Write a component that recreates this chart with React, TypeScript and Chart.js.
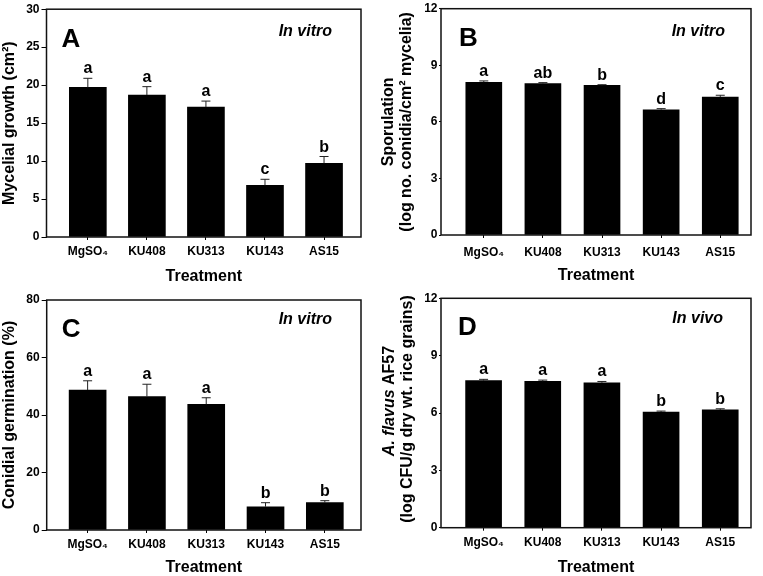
import React, { useEffect, useRef } from 'react';
import { Chart, registerables } from 'chart.js';

Chart.register(...registerables);

const FONT = '"Liberation Sans", Arial, Helvetica, sans-serif';
const W = 763;
const H = 576;

const TREATMENTS = ['MgSO₄', 'KU408', 'KU313', 'KU143', 'AS15'];

// Panel A: mycelial growth (cm²)
const A_VALUES = [19.7, 18.7, 17.1, 6.8, 9.7];
const A_ERRORS = [1.2, 1.1, 0.8, 0.8, 0.9];
const A_LETTERS = ['a', 'a', 'a', 'c', 'b'];
const A_TICKS = [0, 5, 10, 15, 20, 25, 30];

// Panel B: sporulation (log no. conidia/cm² mycelia)
const B_VALUES = [8.1, 8.03, 7.93, 6.64, 7.32];
const B_ERRORS = [0.07, 0.05, 0.04, 0.06, 0.09];
const B_LETTERS = ['a', 'ab', 'b', 'd', 'c'];
const B_TICKS = [0, 3, 6, 9, 12];

// Panel C: conidial germination (%)
const C_VALUES = [48.7, 46.4, 43.7, 8.1, 9.5];
const C_ERRORS = [3.2, 4.3, 2.3, 1.4, 0.7];
const C_LETTERS = ['a', 'a', 'a', 'b', 'b'];
const C_TICKS = [0, 20, 40, 60, 80];

// Panel D: A. flavus AF57 (log CFU/g dry wt. rice grains)
const D_VALUES = [7.69, 7.66, 7.58, 6.05, 6.16];
const D_ERRORS = [0.07, 0.06, 0.07, 0.05, 0.06];
const D_LETTERS = ['a', 'a', 'a', 'b', 'b'];
const D_TICKS = [0, 3, 6, 9, 12];

type Panel = {
  values: number[];
  errors: number[];
  letters: string[];
  yTicks: number[];
  yTitle: string | string[] | null;
  yTitleX: number;
  yTitleLH: number;
  yTickLen: number;
  yTickPad: number;
  panelLetter: string;
  letterDX: number;
  letterDY: number;
  condition: string;
  condDX: number;
  condDY: number;
  plot: { left: number; right: number; top: number; bottom: number };
  xRange: [number, number];
  xLabelY: number;
  xTitleY: number;
  barThickness: number;
  customTitle?: boolean;
};

const PANELS: Panel[] = [
  {
    values: A_VALUES, errors: A_ERRORS, letters: A_LETTERS, yTicks: A_TICKS,
    yTitle: 'Mycelial growth (cm²)', yTitleX: 10, yTitleLH: 19.2, yTickLen: 5, yTickPad: 2,
    panelLetter: 'A', letterDX: 15, letterDY: 38,
    condition: 'In vitro', condDX: 29, condDY: 26.5,
    plot: { left: 46.5, right: 361, top: 5, bottom: 237 },
    xRange: [-0.70, 4.626], xLabelY: 252, xTitleY: 276.7, barThickness: 37,
  },
  {
    values: B_VALUES, errors: B_ERRORS, letters: B_LETTERS, yTicks: B_TICKS,
    yTitle: ['Sporulation', '(log no. conidia/cm² mycelia)'], yTitleX: 389, yTitleLH: 18,
    yTickLen: 2, yTickPad: 1.5,
    panelLetter: 'B', letterDX: 18, letterDY: 37,
    condition: 'In vitro', condDX: 26, condDY: 27,
    plot: { left: 441, right: 751, top: 5, bottom: 235 },
    xRange: [-0.724, 4.52], xLabelY: 253, xTitleY: 276, barThickness: 36,
  },
  {
    values: C_VALUES, errors: C_ERRORS, letters: C_LETTERS, yTicks: C_TICKS,
    yTitle: 'Conidial germination (%)', yTitleX: 9.6, yTitleLH: 19.2, yTickLen: 5, yTickPad: 2,
    panelLetter: 'C', letterDX: 15, letterDY: 36.7,
    condition: 'In vitro', condDX: 29, condDY: 23.5,
    plot: { left: 46.7, right: 361, top: 300, bottom: 530 },
    xRange: [-0.69, 4.61], xLabelY: 545, xTitleY: 568, barThickness: 37,
  },
  {
    values: D_VALUES, errors: D_ERRORS, letters: D_LETTERS, yTicks: D_TICKS,
    yTitle: null, yTitleX: 390, yTitleLH: 18, customTitle: true,
    yTickLen: 2, yTickPad: 1.5,
    panelLetter: 'D', letterDX: 17, letterDY: 37,
    condition: 'In vivo', condDX: 28, condDY: 25,
    plot: { left: 441, right: 751, top: 298.3, bottom: 527.7 },
    xRange: [-0.72, 4.52], xLabelY: 543, xTitleY: 568, barThickness: 36,
  },
];

function makeChart(canvas: HTMLCanvasElement, p: Panel) {
  const titleLeft = Math.max(0, p.yTitleX - p.yTitleLH / 2);
  const yW = p.plot.left - titleLeft;
  const xTitleLH = 19.2;
  const scaleBottom = p.xTitleY + xTitleLH / 2;
  const xH = scaleBottom - p.plot.bottom;
  const xTickLen = 3;
  const xTickPad = p.xLabelY - p.plot.bottom - xTickLen - 7.2;

  const overlay = {
    id: 'overlay' + p.panelLetter,
    afterDatasetsDraw(chart: any) {
      const ctx = chart.ctx as CanvasRenderingContext2D;
      const { left, right, top, bottom } = chart.chartArea;
      const xs = chart.scales.x;
      const ys = chart.scales.y;
      ctx.save();
      // error bars + significance letters
      p.values.forEach((v, i) => {
        const x = xs.getPixelForValue(i);
        const y0 = ys.getPixelForValue(v);
        const y1 = ys.getPixelForValue(v + p.errors[i]);
        ctx.strokeStyle = '#222';
        ctx.lineWidth = 1;
        ctx.beginPath();
        ctx.moveTo(x, y0);
        ctx.lineTo(x, y1);
        ctx.moveTo(x - 4.5, y1);
        ctx.lineTo(x + 4.5, y1);
        ctx.stroke();
        ctx.fillStyle = '#000';
        ctx.font = `bold 16px ${FONT}`;
        ctx.textAlign = 'center';
        ctx.textBaseline = 'alphabetic';
        ctx.fillText(p.letters[i], x, y1 - 5);
      });
      // frame
      ctx.strokeStyle = '#111';
      ctx.lineWidth = 1.5;
      ctx.strokeRect(left, top, right - left, bottom - top);
      // panel letter
      ctx.fillStyle = '#000';
      ctx.font = `bold 26px ${FONT}`;
      ctx.textAlign = 'left';
      ctx.textBaseline = 'alphabetic';
      ctx.fillText(p.panelLetter, left + p.letterDX, top + p.letterDY);
      // condition
      ctx.font = `italic bold 16px ${FONT}`;
      ctx.textAlign = 'right';
      ctx.fillText(p.condition, right - p.condDX, top + p.condDY);
      // custom y title for D (mixed italic)
      if (p.customTitle) {
        const italicFont = `italic bold 16px ${FONT}`;
        const boldFont = `bold 16px ${FONT}`;
        const part1 = 'A. flavus';
        const part2 = ' AF57';
        ctx.save();
        ctx.translate(p.yTitleX, 401);
        ctx.rotate(-Math.PI / 2);
        ctx.textBaseline = 'middle';
        ctx.textAlign = 'left';
        ctx.font = italicFont;
        const w1 = ctx.measureText(part1).width;
        ctx.font = boldFont;
        const w2 = ctx.measureText(part2).width;
        const start = -(w1 + w2) / 2;
        ctx.font = italicFont;
        ctx.fillText(part1, start, 0);
        ctx.font = boldFont;
        ctx.fillText(part2, start + w1, 0);
        ctx.restore();
        ctx.save();
        ctx.translate(p.yTitleX + p.yTitleLH, 409);
        ctx.rotate(-Math.PI / 2);
        ctx.textBaseline = 'middle';
        ctx.textAlign = 'center';
        ctx.font = boldFont;
        ctx.fillText('(log CFU/g dry wt. rice grains)', 0, 0);
        ctx.restore();
      }
      ctx.restore();
    },
  };

  return new Chart(canvas, {
    type: 'bar',
    data: {
      datasets: [
        {
          data: p.values.map((v, i) => ({ x: i, y: v })),
          backgroundColor: '#000',
          borderWidth: 0,
          barThickness: p.barThickness,
        },
      ],
    },
    options: {
      responsive: false,
      animation: false,
      devicePixelRatio: 1,
      layout: {
        autoPadding: false,
        padding: {
          left: titleLeft,
          right: W - p.plot.right,
          top: p.plot.top,
          bottom: H - scaleBottom,
        },
      },
      plugins: {
        legend: { display: false },
        tooltip: { enabled: false },
      },
      scales: {
        x: {
          type: 'linear',
          min: p.xRange[0],
          max: p.xRange[1],
          offset: false,
          afterBuildTicks: (s: any) => {
            s.ticks = TREATMENTS.map((_, i) => ({ value: i }));
          },
          afterFit: (s: any) => {
            s.height = xH;
          },
          grid: {
            display: true,
            drawOnChartArea: false,
            drawTicks: true,
            tickLength: xTickLen,
            color: '#000',
            offset: false,
          },
          border: { display: false },
          ticks: {
            callback: (v: any) => TREATMENTS[Math.round(Number(v))] ?? '',
            font: { family: FONT, size: 12, weight: 'bold' },
            color: '#000',
            padding: xTickPad,
            maxRotation: 0,
            autoSkip: false,
          },
          title: {
            display: true,
            text: 'Treatment',
            font: { family: FONT, size: 16, weight: 'bold', lineHeight: 1.2 },
            color: '#000',
            padding: 0,
          },
        },
        y: {
          type: 'linear',
          min: 0,
          max: p.yTicks[p.yTicks.length - 1],
          afterBuildTicks: (s: any) => {
            s.ticks = p.yTicks.map((v) => ({ value: v }));
          },
          afterFit: (s: any) => {
            s.width = yW;
          },
          grid: {
            display: true,
            drawOnChartArea: false,
            drawTicks: true,
            tickLength: p.yTickLen,
            color: '#000',
          },
          border: { display: false },
          ticks: {
            font: { family: FONT, size: 12, weight: 'bold' },
            color: '#000',
            padding: p.yTickPad,
          },
          title: {
            display: !!p.yTitle,
            text: p.yTitle ?? '',
            font: { family: FONT, size: 16, weight: 'bold', lineHeight: p.yTitleLH / 16 },
            color: '#000',
            padding: 0,
          },
        },
      },
    },
    plugins: [overlay],
  } as any);
}

function PanelCanvas({ panel }: { panel: Panel }) {
  const ref = useRef<HTMLCanvasElement | null>(null);
  useEffect(() => {
    if (!ref.current) return;
    const chart = makeChart(ref.current, panel);
    return () => chart.destroy();
  }, [panel]);
  return (
    <canvas
      ref={ref}
      width={W}
      height={H}
      style={{ position: 'absolute', left: 0, top: 0, width: W, height: H }}
    />
  );
}

export default function App() {
  return (
    <div
      style={{
        position: 'absolute',
        left: 0,
        top: 0,
        width: W,
        height: H,
        background: '#fff',
        overflow: 'hidden',
      }}
    >
      {PANELS.map((p) => (
        <PanelCanvas key={p.panelLetter} panel={p} />
      ))}
    </div>
  );
}
